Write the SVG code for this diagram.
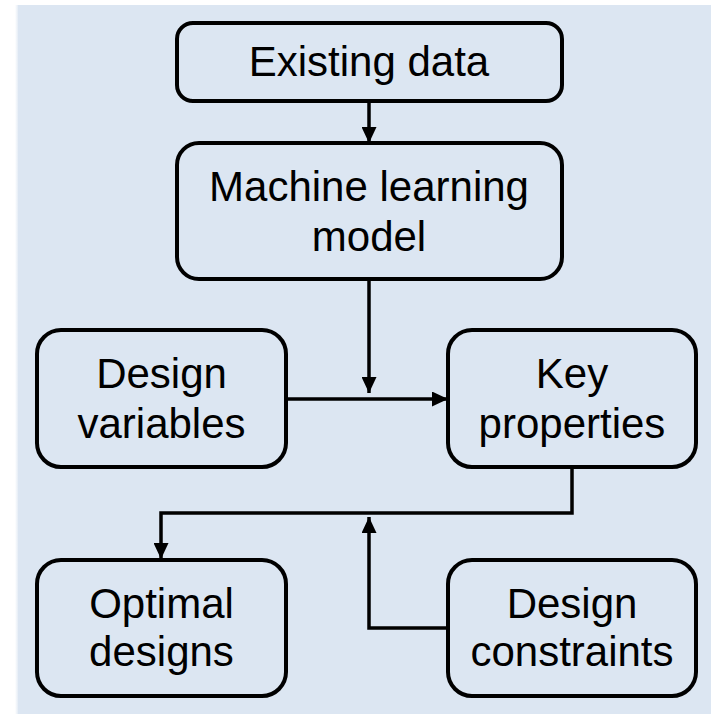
<svg xmlns="http://www.w3.org/2000/svg" width="711" height="714" viewBox="0 0 711 714">
  <defs>
    <marker id="arrow" viewBox="0 0 16 15" refX="16" refY="7.5" markerWidth="16" markerHeight="15" markerUnits="userSpaceOnUse" orient="auto">
      <path d="M0,0 L16,7.5 L0,15 Z" fill="#000"/>
    </marker>
    <linearGradient id="edge" x1="0" x2="1" y1="0" y2="0">
      <stop offset="0" stop-color="#ffffff"/>
      <stop offset="1" stop-color="#dce6f2"/>
    </linearGradient>
  </defs>
  <style>
    .box { fill: #dce6f2; stroke: #000; stroke-width: 4; }
    .label { font-family: "Liberation Sans", Arial, sans-serif; font-size: 42px; fill: #000; text-anchor: middle; }
    .conn { fill: none; stroke: #000; stroke-width: 3.5; }
  </style>

  <!-- page background and panel -->
  <rect x="0" y="0" width="711" height="714" fill="#ffffff"/>
  <rect x="15" y="5" width="4" height="709" fill="url(#edge)"/>
  <rect x="18" y="5" width="693" height="709" fill="#dce6f2"/>

  <!-- connectors -->
  <g id="connectors">
    <path class="conn" d="M369,101 V143" marker-end="url(#arrow)"/>
    <path class="conn" d="M369,279 V393" marker-end="url(#arrow)"/>
    <path class="conn" d="M286,399 H448" marker-end="url(#arrow)"/>
    <path class="conn" d="M572,467 V513 H161 V559" marker-end="url(#arrow)"/>
    <path class="conn" d="M448,628 H369 V517" marker-end="url(#arrow)"/>
  </g>

  <g id="existing-data">
    <rect class="box" x="177" y="23" width="385" height="78" rx="16"/>
    <text class="label" x="369" y="76">Existing data</text>
  </g>

  <g id="ml-model">
    <rect class="box" x="177" y="143" width="385" height="136" rx="22"/>
    <text class="label" x="369" y="201">Machine learning</text>
    <text class="label" x="369" y="251">model</text>
  </g>

  <g id="design-variables">
    <rect class="box" x="37" y="330" width="249" height="137" rx="24"/>
    <text class="label" x="161.5" y="388">Design</text>
    <text class="label" x="161.5" y="438">variables</text>
  </g>

  <g id="key-properties">
    <rect class="box" x="448" y="330" width="248" height="137" rx="24"/>
    <text class="label" x="572" y="388">Key</text>
    <text class="label" x="572" y="438">properties</text>
  </g>

  <g id="optimal-designs">
    <rect class="box" x="37" y="560" width="249" height="136" rx="24"/>
    <text class="label" x="161.5" y="618">Optimal</text>
    <text class="label" x="161.5" y="666">designs</text>
  </g>

  <g id="design-constraints">
    <rect class="box" x="448" y="560" width="248" height="136" rx="24"/>
    <text class="label" x="572" y="618">Design</text>
    <text class="label" x="572" y="666">constraints</text>
  </g>
</svg>
